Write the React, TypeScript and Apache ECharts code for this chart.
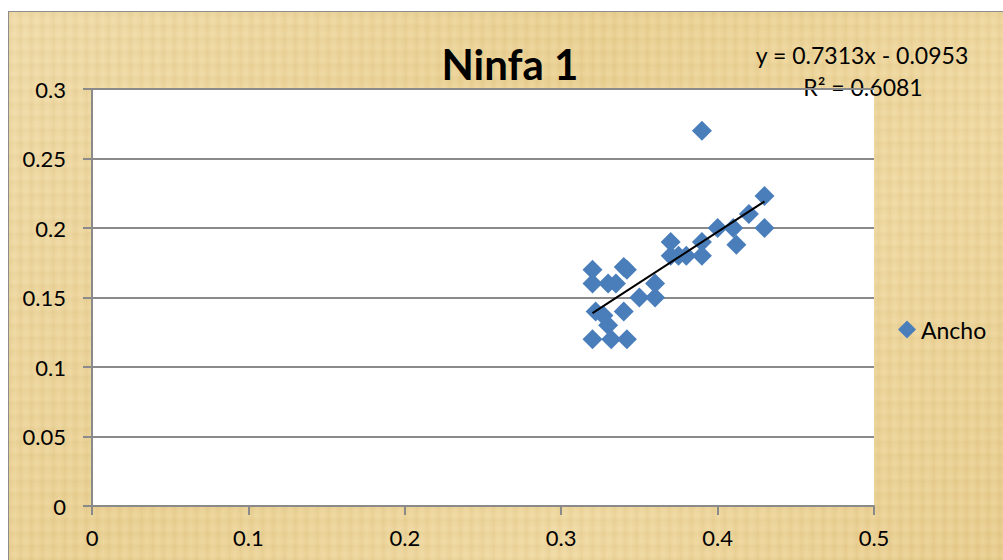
import React, { useEffect, useRef } from "react";
import * as echarts from "echarts";

const chartTitle = "Ninfa 1";
const seriesName = "Ancho";
const xValues = [0.39, 0.43, 0.43, 0.42, 0.41, 0.412, 0.4, 0.39, 0.39, 0.38, 0.37, 0.37, 0.375, 0.36, 0.36, 0.35, 0.342, 0.34, 0.335, 0.33, 0.32, 0.32, 0.34, 0.322, 0.327, 0.33, 0.32, 0.332, 0.342];
const yValues = [0.27, 0.223, 0.2, 0.21, 0.2, 0.188, 0.2, 0.19, 0.18, 0.18, 0.19, 0.18, 0.18, 0.16, 0.15, 0.15, 0.17, 0.172, 0.16, 0.16, 0.17, 0.16, 0.14, 0.14, 0.137, 0.13, 0.12, 0.12, 0.12];
const trendSlope = 0.7313;
const trendIntercept = -0.0953;
const rSquared = 0.6081;
const xAxisRange = [0, 0.5, 0.1];
const yAxisRange = [0, 0.3, 0.05];

const FONT = "Lato, 'Open Sans', sans-serif";

export default function App() {
  const ref = useRef<HTMLDivElement>(null);
  useEffect(() => {
    if (!ref.current) return;
    const chart = echarts.init(ref.current, undefined, { renderer: "svg" });
    const points = xValues.map((x, i) => [x, yValues[i]]);
    const xmin = Math.min(...xValues);
    const xmax = Math.max(...xValues);
    const trend = [xmin, xmax].map((x) => [x, trendSlope * x + trendIntercept]);
    const gray = "#8a8a8a";
    chart.setOption({
      animation: false,
      backgroundColor: "transparent",
      textStyle: { fontFamily: FONT },
      grid: { left: 83, top: 77, width: 782, height: 417, backgroundColor: "#ffffff", show: true, borderWidth: 0 },
      xAxis: {
        type: "value",
        min: xAxisRange[0],
        max: xAxisRange[1],
        interval: xAxisRange[2],
        axisLine: { show: true, onZero: false, lineStyle: { color: gray, width: 2 } },
        axisTick: { show: true, length: 9, lineStyle: { color: gray, width: 2 } },
        axisLabel: { color: "#000", fontSize: 22, margin: 20, fontFamily: FONT },
        splitLine: { show: false },
      },
      yAxis: {
        type: "value",
        min: yAxisRange[0],
        max: yAxisRange[1],
        interval: yAxisRange[2],
        axisLine: { show: true, onZero: false, lineStyle: { color: gray, width: 2 } },
        axisTick: { show: true, length: 9, lineStyle: { color: gray, width: 2 } },
        axisLabel: { color: "#000", fontSize: 22, margin: 26, fontFamily: FONT },
        splitLine: { show: true, lineStyle: { color: gray, width: 2 } },
      },
      legend: {
        data: [seriesName],
        left: 884,
        top: 301,
        itemWidth: 18,
        itemHeight: 18,
        itemGap: 4,
        textStyle: { fontSize: 23, color: "#000", fontFamily: FONT },
        icon: "diamond",
      },
      graphic: [
        {
          type: "text",
          x: 501,
          y: 52,
          style: {
            text: chartTitle,
            font: `bold 42px ${FONT}`,
            fill: "#000",
            align: "center",
            verticalAlign: "middle",
          },
        },
        {
          type: "text",
          x: 853,
          y: 43,
          style: {
            text: `y = ${trendSlope}x - ${Math.abs(trendIntercept)}`,
            font: `23px ${FONT}`,
            fill: "#000",
            align: "center",
            verticalAlign: "middle",
          },
        },
        {
          type: "text",
          x: 854,
          y: 75,
          style: {
            text: `R² = ${rSquared}`,
            font: `23px ${FONT}`,
            fill: "#000",
            align: "center",
            verticalAlign: "middle",
          },
        },
      ],
      series: [
        {
          name: seriesName,
          type: "scatter",
          data: points,
          symbol: "diamond",
          symbolSize: 20,
          itemStyle: { color: "#4a7ebb", opacity: 1 },
          z: 2,
        },
        {
          name: "trend",
          type: "line",
          data: trend,
          symbol: "none",
          lineStyle: { color: "#000", width: 2 },
          z: 3,
        },
      ],
    });
    return () => chart.dispose();
  }, []);

  const texture =
    "repeating-linear-gradient(90deg, rgba(190,150,70,0.10) 0px, rgba(190,150,70,0.0) 3px, rgba(255,245,210,0.10) 6px, rgba(190,150,70,0.06) 11px), " +
    "repeating-linear-gradient(0deg, rgba(180,140,60,0.08) 0px, rgba(255,240,200,0.08) 5px, rgba(180,140,60,0.05) 13px), " +
    "linear-gradient(135deg, #f0dcaa 0%, #ead194 40%, #efd9a2 70%, #e8cd8e 100%)";

  return (
    <div
      style={{
        position: "absolute",
        left: 8,
        top: 11,
        width: 995,
        height: 549,
        overflow: "hidden",
        borderLeft: "1px solid #8c8c8c",
        borderTop: "1px solid #8c8c8c",
        boxSizing: "border-box",
        background: texture,
      }}
    >
      <div ref={ref} style={{ width: 994, height: 548 }} />
    </div>
  );
}
